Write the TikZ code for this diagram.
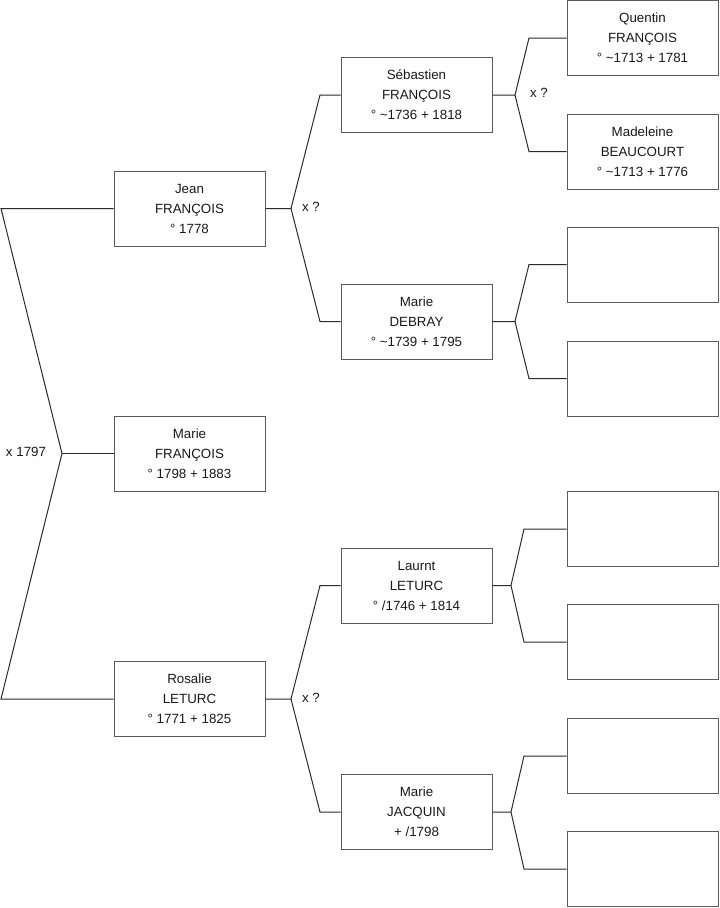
\documentclass[tikz,border=0pt]{standalone}
\usepackage{fontspec}
\setmainfont{Liberation Sans}
\definecolor{boxline}{HTML}{5A5A5A}
\definecolor{linkline}{HTML}{2A2A2A}
\usetikzlibrary{positioning}

\begin{document}
\begin{tikzpicture}[x=0.75pt, y=-0.75pt,
  every node/.style={font=\fontsize{10}{15}\selectfont, text=black!90},
  person/.style={rectangle, draw=boxline, line width=0.75pt, minimum width=113.25pt,
                 minimum height=56.25pt, align=center, inner sep=0pt},
  link/.style={draw=linkline, line width=0.75pt},
  union/.style={inner sep=1pt}
]
  \useasboundingbox (0,0) rectangle (719,908);

  % generation 1
  \node[person] (marie)   at (189.5,453.5) {Marie\\FRANÇOIS\\° 1798 + 1883};
  % generation 2
  \node[person] (jean)    at (189.5,208.5) {Jean\\FRANÇOIS\\° 1778};
  \node[person] (rosalie) at (189.5,699)   {Rosalie\\LETURC\\° 1771 + 1825};
  % generation 3
  \node[person] (seb)     at (416.5,95)    {Sébastien\\FRANÇOIS\\° \textasciitilde1736 + 1818};
  \node[person] (debray)  at (416.5,321.5) {Marie\\DEBRAY\\° \textasciitilde1739 + 1795};
  \node[person] (laurnt)  at (416.5,585.5) {Laurnt\\LETURC\\° /1746 + 1814};
  \node[person] (jacquin) at (416.5,812)   {Marie\\JACQUIN\\+ /1798};
  % generation 4
  \node[person] (quentin)   at (642.5,38)    {Quentin\\FRANÇOIS\\° \textasciitilde1713 + 1781};
  \node[person] (madeleine) at (642.5,151.5) {Madeleine\\BEAUCOURT\\° \textasciitilde1713 + 1776};
  \node[person] (e1) at (642.5,264.5) {};
  \node[person] (e2) at (642.5,378.5) {};
  \node[person] (e3) at (642.5,529)   {};
  \node[person] (e4) at (642.5,642)   {};
  \node[person] (e5) at (642.5,756)   {};
  \node[person] (e6) at (642.5,869)   {};

  % parents of marie
  \coordinate (cpl) at (62,453.5);
  \coordinate (ja)  at (1,208.5);
  \coordinate (ra)  at (1,699);
  \draw[link] (jean.west) -- (ja) -- (cpl) -- (ra) -- (rosalie.west);
  \draw[link] (cpl) -- (marie.west);
  \node[union] (u0) at (26,452) {x 1797};

  % forks to the next generation
  \foreach \kid/\dad/\mom/\ax/\ex in {jean/seb/debray/291/320, rosalie/laurnt/jacquin/291/320,
      seb/quentin/madeleine/515/529, debray/e1/e2/515/529,
      laurnt/e3/e4/511/524, jacquin/e5/e6/511/524}
    \draw[link] (\dad.west) -- (\dad.west -| \ex,0) -- (\kid.east -| \ax,0) -- (\kid.east)
                (\kid.east -| \ax,0) -- (\mom.west -| \ex,0) -- (\mom.west);

  \node[union] (u1) at (311,207) {x ?};
  \node[union] (u2) at (311,698) {x ?};
  \node[union] (u3) at (539,93)  {x ?};
\end{tikzpicture}
\end{document}
